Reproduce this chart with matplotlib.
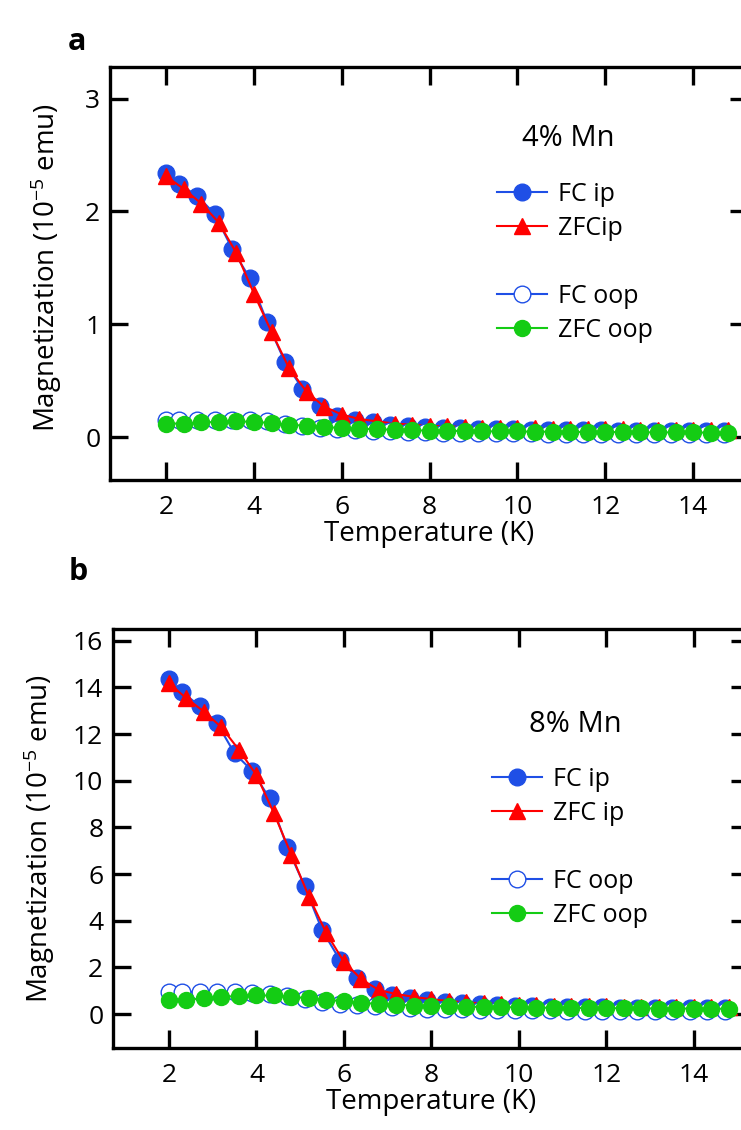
import matplotlib
matplotlib.use("Agg")
import matplotlib.pyplot as plt
from matplotlib.lines import Line2D

plt.rcParams["font.family"] = ["Open Sans", "DejaVu Sans"]
plt.rcParams["mathtext.default"] = "regular"

# temperature grids (K): field-cooled and zero-field-cooled sweeps
T_fc = [2.0, 2.3, 2.7, 3.1, 3.5, 3.9, 4.3, 4.7, 5.1, 5.5, 5.9, 6.3, 6.7, 7.1, 7.5, 7.9, 8.3,
        8.7, 9.1, 9.5, 9.9, 10.3, 10.7, 11.1, 11.5, 11.9, 12.3, 12.7, 13.1, 13.5, 13.9, 14.3, 14.7]
T_zfc = [2.0, 2.4, 2.8, 3.2, 3.6, 4.0, 4.4, 4.8, 5.2, 5.6, 6.0, 6.4, 6.8, 7.2, 7.6, 8.0, 8.4,
         8.8, 9.2, 9.6, 10.0, 10.4, 10.8, 11.2, 11.6, 12.0, 12.4, 12.8, 13.2, 13.6, 14.0, 14.4, 14.8]

# 4% Mn, magnetization in 1e-5 emu
fc_ip_a = [2.34, 2.24, 2.14, 1.98, 1.67, 1.41, 1.02, 0.67, 0.43, 0.28, 0.19, 0.15, 0.13, 0.11,
           0.10, 0.09, 0.085, 0.08, 0.075, 0.072, 0.07, 0.067, 0.065, 0.062, 0.06, 0.06, 0.058,
           0.056, 0.055, 0.054, 0.053, 0.052, 0.05]
zfc_ip_a = [2.31, 2.20, 2.07, 1.90, 1.63, 1.27, 0.93, 0.61, 0.40, 0.27, 0.20, 0.16, 0.14, 0.12,
            0.11, 0.10, 0.095, 0.09, 0.085, 0.082, 0.08, 0.077, 0.075, 0.072, 0.07, 0.07, 0.068,
            0.066, 0.065, 0.064, 0.063, 0.062, 0.06]
fc_oop_a = [0.15, 0.15, 0.15, 0.155, 0.155, 0.15, 0.14, 0.12, 0.10, 0.085, 0.07, 0.06, 0.055,
            0.05, 0.046, 0.043, 0.04, 0.038, 0.036, 0.035, 0.034, 0.033, 0.032, 0.031, 0.03,
            0.03, 0.03, 0.029, 0.029, 0.028, 0.028, 0.028, 0.028]
zfc_oop_a = [0.12, 0.12, 0.13, 0.135, 0.14, 0.135, 0.125, 0.11, 0.10, 0.09, 0.08, 0.075, 0.07,
             0.065, 0.06, 0.058, 0.056, 0.054, 0.052, 0.05, 0.05, 0.048, 0.048, 0.046, 0.045,
             0.045, 0.044, 0.043, 0.042, 0.042, 0.041, 0.04, 0.04]

# 8% Mn
fc_ip_b = [14.34, 13.8, 13.2, 12.46, 11.17, 10.43, 9.24, 7.17, 5.49, 3.6, 2.34, 1.57, 1.06,
           0.81, 0.7, 0.6, 0.52, 0.46, 0.42, 0.39, 0.36, 0.34, 0.32, 0.31, 0.3, 0.29, 0.28,
           0.28, 0.27, 0.27, 0.26, 0.26, 0.25]
zfc_ip_b = [14.17, 13.53, 12.96, 12.29, 11.32, 10.24, 8.6, 6.82, 5.03, 3.46, 2.24, 1.49, 1.03,
            0.86, 0.74, 0.64, 0.56, 0.5, 0.46, 0.43, 0.4, 0.38, 0.36, 0.35, 0.34, 0.33, 0.32,
            0.32, 0.31, 0.31, 0.3, 0.3, 0.3]
fc_oop_b = [0.95, 0.95, 0.95, 0.94, 0.93, 0.90, 0.85, 0.76, 0.65, 0.54, 0.45, 0.38, 0.33, 0.29,
            0.26, 0.24, 0.22, 0.2, 0.19, 0.18, 0.17, 0.16, 0.16, 0.15, 0.15, 0.14, 0.14, 0.14,
            0.13, 0.13, 0.13, 0.13, 0.12]
zfc_oop_b = [0.60, 0.62, 0.68, 0.74, 0.78, 0.80, 0.80, 0.74, 0.68, 0.62, 0.55, 0.48, 0.44, 0.40,
             0.37, 0.35, 0.33, 0.32, 0.31, 0.30, 0.29, 0.28, 0.27, 0.27, 0.26, 0.26, 0.25, 0.25,
             0.24, 0.24, 0.24, 0.23, 0.23]

BLUE = "#1f4fe6"
RED = "#ff0000"
GREEN = "#14cc14"

W, H = 741, 1130
fig = plt.figure(figsize=(W / 100, H / 100), dpi=100)


def px_axes(left, top, right, bottom):
    return fig.add_axes([left / W, 1 - bottom / H, (right - left) / W, (bottom - top) / H])


def draw_panel(ax, fc_ip, zfc_ip, fc_oop, zfc_oop, ylim, yticks, ip_label):
    ax.plot(T_fc, fc_ip, "-o", color=BLUE, lw=1.5, ms=12, mec=BLUE, mfc=BLUE, label="FC ip", zorder=3)
    ax.plot(T_zfc, zfc_ip, "-^", color=RED, lw=1.5, ms=12, mec=RED, mfc=RED, label=ip_label, zorder=4)
    ax.plot(T_fc, fc_oop, "-o", color=BLUE, lw=1.5, ms=12, mec=BLUE, mfc="white", mew=1.0,
            label="FC oop", zorder=5)
    ax.plot(T_zfc, zfc_oop, "-o", color=GREEN, lw=1.5, ms=11.5, mec=GREEN, mfc=GREEN,
            label="ZFC oop", zorder=6)

    ax.set_xlim(0.72, 15.25)
    ax.set_ylim(*ylim)
    ax.set_xticks([2, 4, 6, 8, 10, 12, 14])
    ax.set_yticks(yticks)
    ax.tick_params(direction="in", length=13, width=2.4, top=True, right=True, labelsize=19)
    ax.tick_params(axis="x", pad=11)
    ax.tick_params(axis="y", pad=7)
    for s in ax.spines.values():
        s.set_linewidth(2.4)
    ax.set_xlabel("Temperature (K)", fontsize=20, labelpad=0)
    ax.set_ylabel("Magnetization (10$^{-5}$ emu)", fontsize=20)

    h, l = ax.get_legend_handles_labels()
    blank = Line2D([], [], color="none")
    return h[:2] + [blank] + h[2:], l[:2] + [" "] + l[2:]


ax_a = px_axes(110, 67, 748, 480)
ha, la = draw_panel(ax_a, fc_ip_a, zfc_ip_a, fc_oop_a, zfc_oop_a, (-0.38, 3.28), [0, 1, 2, 3], "ZFCip")
ax_a.yaxis.set_label_coords(-0.072, 0.515)
fig.legend(ha, la, loc="center left", bbox_to_anchor=(497 / W, 1 - 262.5 / H), frameon=False,
           fontsize=18, handlelength=2.0, handletextpad=0.45, labelspacing=0.36,
           borderpad=0, borderaxespad=0, numpoints=1)
fig.text(568 / W, 1 - 138 / H, "4% Mn", fontsize=21, ha="center", va="center")
fig.text(77 / W, 1 - 42 / H, "a", fontsize=22, fontweight="bold", ha="center", va="center")

ax_b = px_axes(113, 629, 748.6, 1048)
hb, lb = draw_panel(ax_b, fc_ip_b, zfc_ip_b, fc_oop_b, zfc_oop_b, (-1.45, 16.5),
                    [0, 2, 4, 6, 8, 10, 12, 14, 16], "ZFC ip")
ax_b.yaxis.set_label_coords(-0.088, 0.5)
fig.legend(hb, lb, loc="center left", bbox_to_anchor=(492 / W, 1 - 847.5 / H), frameon=False,
           fontsize=18, handlelength=2.0, handletextpad=0.45, labelspacing=0.36,
           borderpad=0, borderaxespad=0, numpoints=1)
fig.text(575 / W, 1 - 725 / H, "8% Mn", fontsize=21, ha="center", va="center")
fig.text(78 / W, 1 - 572 / H, "b", fontsize=22, fontweight="bold", ha="center", va="center")

fig.savefig("out.png", dpi=100)
